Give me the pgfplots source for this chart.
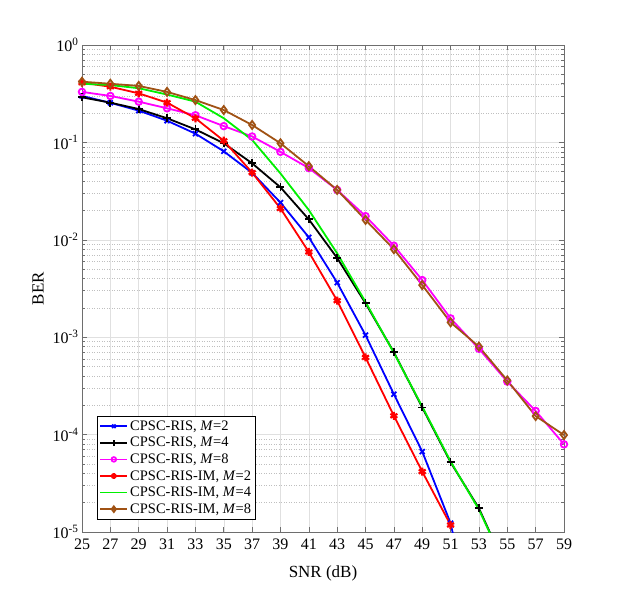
\documentclass[border=0pt]{standalone}
\usepackage{fontspec}
\setmainfont{Liberation Serif}
\usepackage{pgfplots}
\pgfplotsset{compat=1.18}
\definecolor{mybrown}{RGB}{160,82,20}
\definecolor{mygreen}{RGB}{0,240,0}
\definecolor{mymagenta}{RGB}{255,0,255}
\definecolor{myblue}{RGB}{0,0,255}
\definecolor{myred}{RGB}{255,0,0}
\definecolor{axgray}{RGB}{110,110,110}
\begin{document}
\begin{tikzpicture}
\path[use as bounding box] (-82bp,-67bp) rectangle (541bp,532bp);
\begin{axis}[
  scale only axis, width=482bp, height=487bp,
  xmin=25, xmax=59, ymin=1e-5, ymax=1,
  ymode=log,
  xtick={25,27,...,59},
  ytick={1e-5,1e-4,1e-3,1e-2,1e-1,1},
  yticklabels={10\textsuperscript{-5},10\textsuperscript{-4},10\textsuperscript{-3},10\textsuperscript{-2},10\textsuperscript{-1},10\textsuperscript{0}},
  /pgf/number format/assume math mode=true,
  ticklabel style={font=\fontsize{16bp}{18bp}\selectfont},
  xticklabel style={yshift=-3bp},
  grid=both,
  major grid style={line width=0.5bp, color=black!12},
  minor grid style={line width=0.5bp, color=black!25, dotted},
  axis line style={color=axgray, line width=0.6bp},
  tick style={color=axgray, line width=0.6bp},
  major tick length=5bp, minor tick length=3bp,
  xlabel={SNR (dB)}, ylabel={BER},
  label style={font=\fontsize{17bp}{20bp}\selectfont},
  xlabel style={at={(axis description cs:0.5,-0.084)}, anchor=center},
  ylabel style={at={(axis description cs:-0.091,0.5)}, anchor=center},
  every axis plot/.append style={line width=1.8bp},
  legend style={at={(axis description cs:0.0315,0.0267)}, anchor=south west,
    font=\fontsize{14.5bp}{16bp}\selectfont, draw=black, line width=0.5bp,
    inner sep=2bp, row sep=1.5bp},
  legend cell align=left,
  legend image code/.code={\draw[mark repeat=2,mark phase=2,every mark/.append style={scale=0.7}] plot coordinates {(0bp,0bp) (13.5bp,0bp) (27bp,0bp)};},
]
\addplot[color=myblue, mark=x, mark size=3.5bp, mark options={solid}] coordinates {
(25,0.30) (27,0.255) (29,0.212) (31,0.167) (33,0.123) (35,0.081) (37,0.0487) (39,0.0241) (41,0.0106) (43,0.00363) (45,0.00105) (47,2.6e-4) (49,6.7e-5) (51,1.23e-5) (53,6e-7)};
\addlegendentry{CPSC-RIS, \textit{M}=2}
\addplot[color=black, mark=+, mark size=4bp, mark options={solid}] coordinates {
(25,0.29) (27,0.256) (29,0.22) (31,0.177) (33,0.136) (35,0.098) (37,0.061) (39,0.0346) (41,0.0162) (43,0.0065) (45,0.00223) (47,7.0e-4) (49,1.9e-4) (51,5.2e-5) (53,1.75e-5) (55,4e-6)};
\addlegendentry{CPSC-RIS, \textit{M}=4}
\addplot[color=mymagenta, mark=o, mark size=3.3bp, mark options={solid}] coordinates {
(25,0.33) (27,0.30) (29,0.262) (31,0.224) (33,0.19) (35,0.147) (37,0.115) (39,0.080) (41,0.0545) (43,0.0325) (45,0.0175) (47,0.0087) (49,0.00386) (51,0.00156) (53,7.6e-4) (55,3.5e-4) (57,1.75e-4) (59,7.95e-5)};
\addlegendentry{CPSC-RIS, \textit{M}=8}
\addplot[color=myred, mark=asterisk, mark size=4bp, mark options={solid, line width=2.2bp}] coordinates {
(25,0.41) (27,0.373) (29,0.319) (31,0.256) (33,0.177) (35,0.104) (37,0.049) (39,0.021) (41,0.0075) (43,0.00237) (45,6.2e-4) (47,1.56e-4) (49,4.17e-5) (51,1.18e-5)};
\addlegendentry{CPSC-RIS-IM, \textit{M}=2}
\addplot[color=mygreen, no marks] coordinates {
(25,0.40) (27,0.388) (29,0.36) (31,0.31) (33,0.262) (35,0.177) (37,0.106) (39,0.048) (41,0.0202) (43,0.00726) (45,0.0023) (47,6.9e-4) (49,1.94e-4) (51,5.3e-5) (53,1.7e-5) (55,4e-6)};
\addlegendentry{CPSC-RIS-IM, \textit{M}=4}
\addplot[color=mybrown, mark=diamond, mark size=4bp, mark options={solid}] coordinates {
(25,0.42) (27,0.40) (29,0.38) (31,0.33) (33,0.272) (35,0.215) (37,0.151) (39,0.098) (41,0.057) (43,0.0325) (45,0.016) (47,0.008) (49,0.00343) (51,0.00142) (53,8.0e-4) (55,3.6e-4) (57,1.55e-4) (59,9.9e-5)};
\addlegendentry{CPSC-RIS-IM, \textit{M}=8}
\end{axis}
\end{tikzpicture}
\end{document}
